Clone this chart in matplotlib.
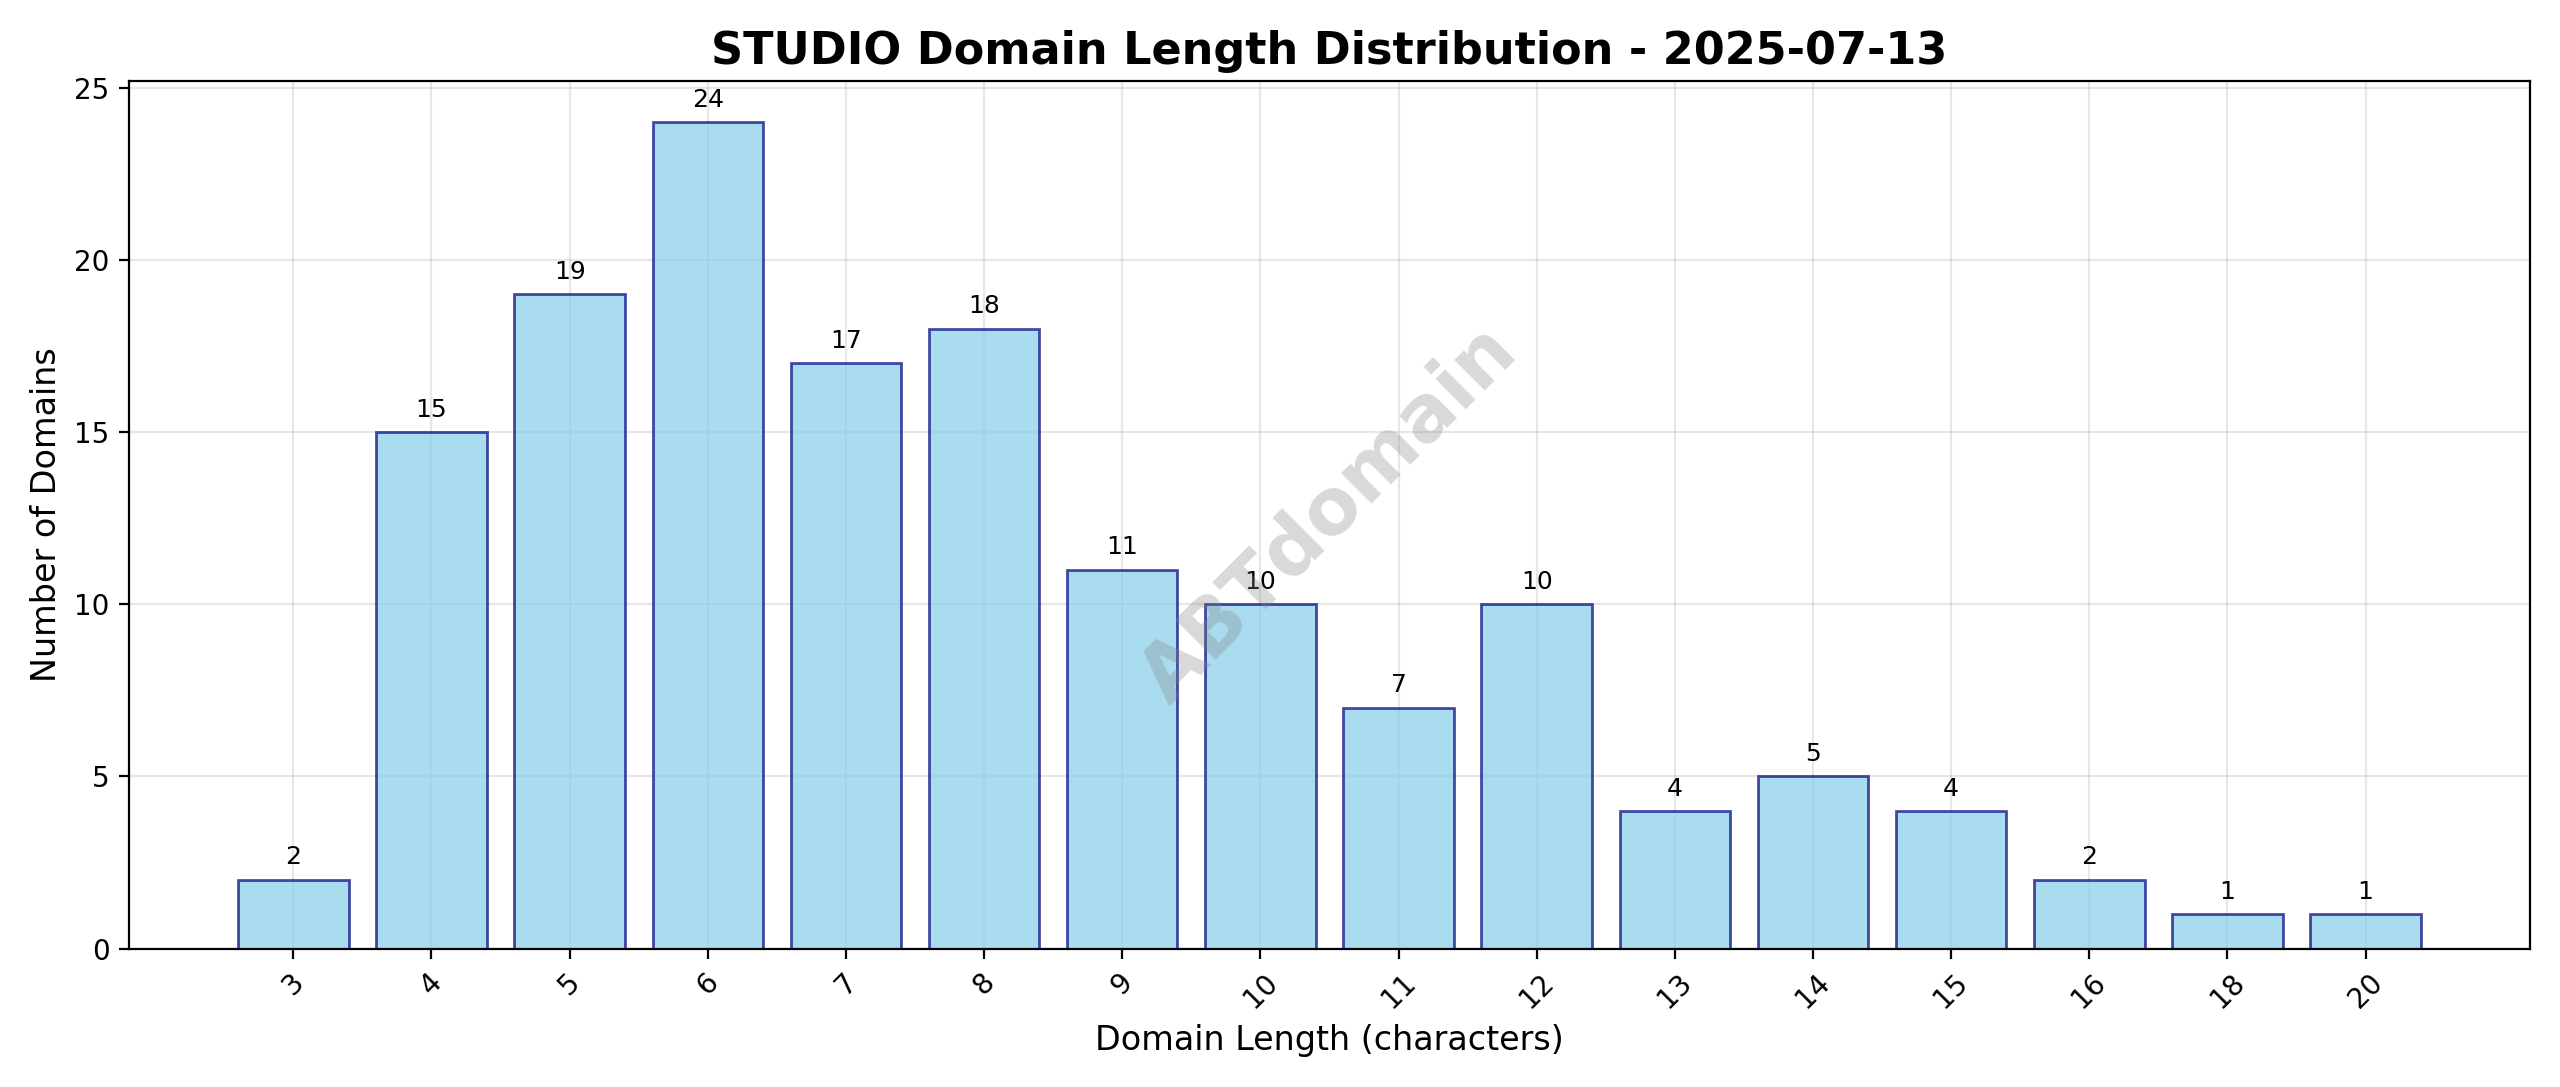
import matplotlib
matplotlib.use("Agg")
from matplotlib import pyplot as plt

# Dados
comprimentos = ["3", "4", "5", "6", "7", "8", "9", "10", "11", "12", "13", "14", "15", "16", "18", "20"]
contagens = [2, 15, 19, 24, 17, 18, 11, 10, 7, 10, 4, 5, 4, 2, 1, 1]

fig, ax = plt.subplots(figsize=(12.8, 5.435), dpi=200)
posicoes = range(len(comprimentos))
barras = ax.bar(posicoes, contagens, color="skyblue", alpha=0.7,
                edgecolor="navy", linewidth=1)

for b, v in zip(barras, contagens):
    ax.text(b.get_x() + b.get_width() / 2, b.get_height() + 0.3, str(v),
            ha="center", va="bottom", fontsize=9)

ax.set_xticks(list(posicoes))
ax.set_xticklabels(comprimentos, rotation=45)
ax.set_title("STUDIO Domain Length Distribution - 2025-07-13",
             fontsize=16, fontweight="bold")
ax.set_xlabel("Domain Length (characters)", fontsize=12)
ax.set_ylabel("Number of Domains", fontsize=12)
ax.grid(True, alpha=0.3)
ax.set_axisbelow(True)

ax.text(0.5, 0.5, "ABTdomain", transform=ax.transAxes, fontsize=28,
        color="gray", alpha=0.3, ha="center", va="center", rotation=45,
        fontweight="bold")

plt.tight_layout()
plt.savefig("out.png")
